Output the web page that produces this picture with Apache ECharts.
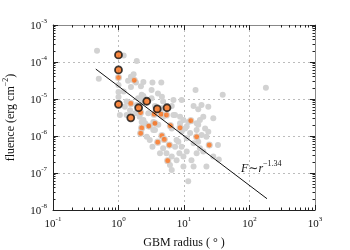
<!DOCTYPE html>
<html><head><meta charset="utf-8">
<script src="https://cdn.jsdelivr.net/npm/echarts@6/dist/echarts.min.js"></script>
<style>html,body{margin:0;padding:0;background:#fff}#c{width:350px;height:250px}</style>
</head><body><div id="c"></div>
<script>
// GBM radius (deg), fluence (erg cm^-2)
const grayPoints = [[0.47,2.0e-4],[0.5,3.5e-5],[1.2,1.5e-4],[1.9,1.06e-4],[1.7,4.7e-5],[1.55,4.0e-5],[1.4,3.1e-5],[1.85,2.8e-5],[2.2,2.2e-5],[3.2,1.75e-5],[3.3,2.8e-5],[4.5,2.8e-5],[4.0,1.4e-5],[1.55,2.1e-5],[1.2,1.6e-5],[2.4,1.2e-5],[15,1.75e-5],[39,1.3e-5],[2.0,1.05e-5],[1.25,6.2e-6],[1.5,5.0e-6],[1.9,6.9e-6],[2.35,7.9e-6],[4.8,8.5e-6],[3.6,6.5e-6],[6.5,6.5e-6],[14,6.5e-6],[16.5,5.3e-6],[18.5,6.9e-6],[2.1,3.3e-6],[2.4,2.7e-6],[4.3,5.0e-6],[4.8,3.3e-6],[7.3,3.7e-6],[8.7,3.3e-6],[9.8,2.7e-6],[11.6,2.4e-6],[15.6,2.2e-6],[17.5,2.7e-6],[19.7,3.3e-6],[8.7,2.2e-6],[11,1.8e-6],[6.5,1.6e-6],[178,2.0e-5],[2.55,2.2e-6],[3.4,1.45e-6],[2.7,9.6e-7],[3.0,7.8e-7],[3.3,5.1e-7],[4.8,4.7e-7],[4.3,3.4e-7],[5.4,3.4e-7],[6.5,2.8e-7],[6.1,1.65e-7],[6.5,1.2e-7],[7.7,2.2e-7],[8.5,3.4e-7],[9.8,2.8e-7],[7.3,5.1e-7],[9.2,5.1e-7],[11,3.8e-7],[13,2.2e-7],[11.6,6e-8],[14,6.4e-7],[16.5,7.0e-7],[17.5,4.7e-7],[15.6,3.4e-7],[19.7,3.8e-7],[28,2.8e-7],[22,1.5e-7],[14,1.5e-7],[9.8,1.5e-7],[34,2.3e-7],[33,5.7e-7],[7.7,7.8e-7],[11,8.7e-7],[12.4,1.2e-6],[9.2,1.3e-6],[15.6,1.45e-6],[18.6,1.06e-6],[22,9.6e-7],[1.0,2.4e-5],[1.0,1.55e-5],[1.0,1.13e-5],[1.05,3.7e-6],[1.33,8.5e-6],[1.33,3.7e-6],[1.8,4.1e-6],[2.26,2.4e-6],[2.85,4.1e-6],[3.4,2.4e-6],[3.0,1.8e-6],[3.6,1.45e-6],[4.05,2.0e-6],[3.2,1.04e-5],[2.26,1.04e-5],[4.6,1.15e-5],[6.9,9.4e-6],[9.2,9.4e-6],[4.6,5.6e-6],[23.5,6.2e-6],[28,3.0e-6],[6.9,3.7e-6],[10.4,1.6e-6],[16.5,2.0e-6],[21,1.6e-6],[8.2,7.0e-7],[23.5,1.3e-6],[2.4,2.9e-5],[2.26,1.3e-5]];
const orangePoints = [[1.0,3.8e-5],[1.74,3.2e-5],[1.54,7.6e-6],[2.18,4.3e-6],[3.5,3.9e-6],[4.46,3.9e-6],[5.4,3.7e-6],[6.2,1.9e-6],[2.26,1.65e-6],[2.9,1.86e-6],[3.6,2.2e-6],[8.7,1.66e-6],[12.7,2.6e-6],[2.18,1.18e-6],[4.6,1.02e-6],[3.97,6.8e-7],[5.97,5.7e-7],[5.0,8.1e-7],[5.64,2.15e-7],[24.3,5.7e-7],[15.6,9.5e-7]];
const highlightPoints = [[1.0,1.55e-4],[1.0,6.1e-5],[1.0,7.2e-6],[1.54,3.1e-6],[2.03,5.8e-6],[2.7,8.7e-6],[3.9,5.4e-6],[5.5,5.8e-6]];
const fitLine = [[0.45,6.44e-5],[185,2.02e-8]];
const xRange = [0.1, 1000];
const yRange = [1e-8, 1e-3];

function minorVals(lo, hi) {
  const out = [];
  for (let d = Math.round(Math.log10(lo)); d < Math.round(Math.log10(hi)); d++)
    for (let k = 2; k <= 9; k++) out.push(k * Math.pow(10, d));
  return out;
}
const serif = '"Liberation Serif","DejaVu Serif",serif';
const rich = {
  b: {fontFamily: serif, fontSize: 11, color: '#111', lineHeight: 14, verticalAlign: 'bottom'},
  s: {fontFamily: serif, fontSize: 7, color: '#111', lineHeight: 14, verticalAlign: 'top'}
};
const fmt = v => '{b|10}{s|' + Math.round(Math.log10(v)) + '}';
const gridLine = {show: true, lineStyle: {color: '#bcbcbc', type: [2, 3], width: 1}};

function mkAxis(kind, pos, major, range, extra) {
  const base = {
    type: 'log', logBase: 10, min: range[0], max: range[1], position: pos,
    splitNumber: kind === 'x' ? 4 : 5,
    axisLine: {show: major, onZero: false, lineStyle: {color: (pos === 'top' || pos === 'right') ? '#888' : '#222', width: 1}},
    axisTick: major ? {show: true, inside: true, length: 5, lineStyle: {color: '#222'}}
                    : {show: true, inside: true, length: 2.5, customValues: minorVals(range[0], range[1]), lineStyle: {color: '#222'}},
    axisLabel: {show: false},
    splitLine: {show: false}
  };
  return Object.assign(base, extra || {});
}

const chart = echarts.init(document.getElementById('c'), null, {renderer: 'canvas'});
chart.setOption({
  animation: false,
  grid: {left: 53, right: 35, top: 25, bottom: 40, containLabel: false, outerBoundsMode: 'none'},
  xAxis: [
    mkAxis('x', 'bottom', true, xRange, {
      axisLabel: {show: true, formatter: fmt, rich: rich, margin: 6},
      splitLine: gridLine,
      name: 'GBM radius ( ° )', nameLocation: 'middle', nameGap: 27,
      nameTextStyle: {fontFamily: serif, fontSize: 12, color: '#111'}
    }),
    mkAxis('x', 'bottom', false, xRange),
    mkAxis('x', 'top', true, xRange),
    mkAxis('x', 'top', false, xRange)
  ],
  yAxis: [
    mkAxis('y', 'left', true, yRange, {
      axisLabel: {show: true, formatter: fmt, rich: rich, margin: 6},
      splitLine: gridLine,
      name: '{n|fluence (erg cm}{s|−2}{n|)}', nameLocation: 'middle', nameGap: 36,
      nameTextStyle: {rich: {
        n: {fontFamily: serif, fontSize: 12, color: '#111', lineHeight: 15, verticalAlign: 'bottom'},
        s: {fontFamily: serif, fontSize: 8, color: '#111', lineHeight: 15, verticalAlign: 'top'}
      }}
    }),
    mkAxis('y', 'left', false, yRange),
    mkAxis('y', 'right', true, yRange),
    mkAxis('y', 'right', false, yRange)
  ],
  series: [
    {type: 'scatter', data: grayPoints, symbolSize: 6, itemStyle: {color: '#d2d2d2', opacity: 1}, z: 2},
    {type: 'scatter', data: orangePoints, symbolSize: 6, itemStyle: {color: '#f86a12', borderColor: '#d2d2d2', borderWidth: 1.2}, z: 3},
    {type: 'line', data: fitLine, symbol: 'none', lineStyle: {color: '#111', width: 1}, z: 4},
    {type: 'scatter', data: highlightPoints, symbolSize: 7, itemStyle: {color: '#f86a12', borderColor: '#111', borderWidth: 1.8}, z: 5}
  ],
  graphic: [{
    type: 'text', left: 241, top: 160, z: 10,
    style: {
      text: '{f|F}{t|∼}{f|r}{s|−1.34}',
      rich: {
        f: {fontFamily: serif, fontStyle: 'italic', fontSize: 12, fill: '#111', lineHeight: 15, verticalAlign: 'bottom'},
        t: {fontFamily: serif, fontSize: 12, fill: '#111', lineHeight: 15, verticalAlign: 'bottom'},
        s: {fontFamily: serif, fontSize: 8, fill: '#111', lineHeight: 15, verticalAlign: 'top'}
      }
    }
  }]
});
</script></body></html>
